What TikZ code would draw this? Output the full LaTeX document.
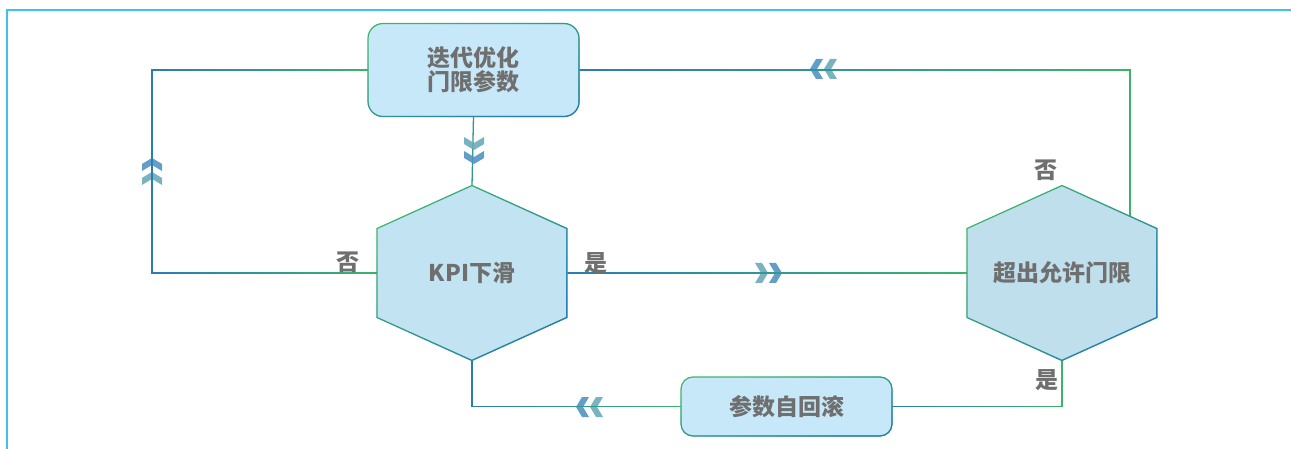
\documentclass[tikz,border=0pt]{standalone}
\usepackage{fontspec}
\newfontfamily\cjk{Noto Sans CJK SC}
\usetikzlibrary{calc,backgrounds,fadings}
\definecolor{gr}{HTML}{3DB36B}
\definecolor{bl}{HTML}{2A7CB8}
\definecolor{teal}{HTML}{2E9A8A}
\definecolor{framec}{HTML}{3FC3EC}
\definecolor{txt}{HTML}{6F6F6F}
\definecolor{boxfill}{HTML}{C6E8F8}
\definecolor{hexfill}{HTML}{C2E3F1}
\definecolor{hexfillB}{HTML}{C0DFEC}
\definecolor{chevA}{HTML}{5193C2}
\definecolor{chevB}{HTML}{6AABB8}
\tikzfading[name=fadeLR, left color=transparent!0, right color=transparent!100]
\tikzfading[name=fadeDiag, left color=transparent!100, right color=transparent!0]
\tikzset{
  lbl/.style={font=\cjk\bfseries\fontsize{23}{23.5}\selectfont, text=txt, align=center},
  rbox/.style={lbl, rectangle, rounded corners=15pt, fill=boxfill, draw=gr, line width=1.2pt,
    outer sep=0pt, postaction={draw=bl, line width=1.2pt, path fading=fadeDiag, fading angle=-45}},
  hexlbl/.style={lbl, rectangle, inner sep=0pt, outer sep=0pt, minimum width=190pt, minimum height=175pt},
  hexshape/.style={draw=gr, line width=1.2pt, postaction={draw=bl, line width=1.2pt, path fading=fadeDiag, fading angle=-45}},
  gline/.style={draw=gr, line width=1.3pt, postaction={draw=bl, line width=1.3pt, path fading=fadeLR}},
  chev/.pic={
    \fill[chevA, fill opacity=0.9] (0,0) -- (-6,-10) -- (-13,-10) -- (-7,0) -- (-13,10) -- (-6,10) -- cycle;
    \fill[chevB, fill opacity=0.9] (-14,0) -- (-20,-10) -- (-27,-10) -- (-21,0) -- (-27,10) -- (-20,10) -- cycle;
  },
  frameline/.style={draw=framec, line width=1.5pt},
}
\begin{document}
\begin{tikzpicture}[x=1pt, y=-1pt]
\useasboundingbox (0,0) rectangle (1291,449);
% frame
\draw[frameline] (1291,10) -- (7,10) -- (7,449);

% nodes
\node[rbox, minimum width=211pt, minimum height=93pt] (opt) at (473.5,70) {迭代优化\\门限参数};
\node[hexlbl] (kpi) at (472,273) {KPI下滑};
\node[hexlbl] (rh) at (1062,273) {超出允许门限};
\node[rbox, rounded corners=12pt, minimum width=211pt, minimum height=59pt] (rb) at (786.5,406.5) {参数自回滚};

% hexagon corners
\coordinate (kNE) at ($(kpi.north east)+(0,43)$);
\coordinate (kSE) at ($(kpi.south east)+(0,-43)$);
\coordinate (kSW) at ($(kpi.south west)+(0,-43)$);
\coordinate (kNW) at ($(kpi.north west)+(0,43)$);
\coordinate (rNE) at ($(rh.north east)+(0,43)$);
\coordinate (rSE) at ($(rh.south east)+(0,-43)$);
\coordinate (rSW) at ($(rh.south west)+(0,-43)$);
\coordinate (rNW) at ($(rh.north west)+(0,43)$);
\coordinate (rX) at ($(rh.north)!0.716!(rNE)$);
\coordinate (L) at (152,70);

\begin{scope}[on background layer]
  % connectors
  \draw[teal, line width=1.3pt] (opt.south) -- (kpi.north);
  \path (474,164) pic[rotate=-90] {chev};
  \path (152,158) pic[rotate=90] {chev};
  \path (782,273) pic {chev};
  \path (810,69) pic[rotate=180] {chev};
  \path (576,407) pic[rotate=180] {chev};
  \draw[gline] (kpi.west) -| (L) -- (opt.west);
  \draw[gline] (kpi.east) -- (rh.west);
  \draw[gline] (rX) -- (rX |- opt.east) -- (opt.east);
  \draw[gline] (rh.south) |- (rb.east);
  \draw[gline] (rb.west) -| (kpi.south);
  % hexagons
  \path[hexshape, fill=hexfill] (kpi.north) -- (kNE) -- (kSE) -- (kpi.south) -- (kSW) -- (kNW) -- cycle;
  \path[hexshape, fill=hexfillB] (rh.north) -- (rNE) -- (rSE) -- (rh.south) -- (rSW) -- (rNW) -- cycle;
\end{scope}

% labels
\node[lbl] (no1) at (348,262) {否};
\node[lbl] (yes1) at (596,263) {是};
\node[lbl] (no2) at (1046,170) {否};
\node[lbl] (yes2) at (1047,380) {是};
\end{tikzpicture}
\end{document}
